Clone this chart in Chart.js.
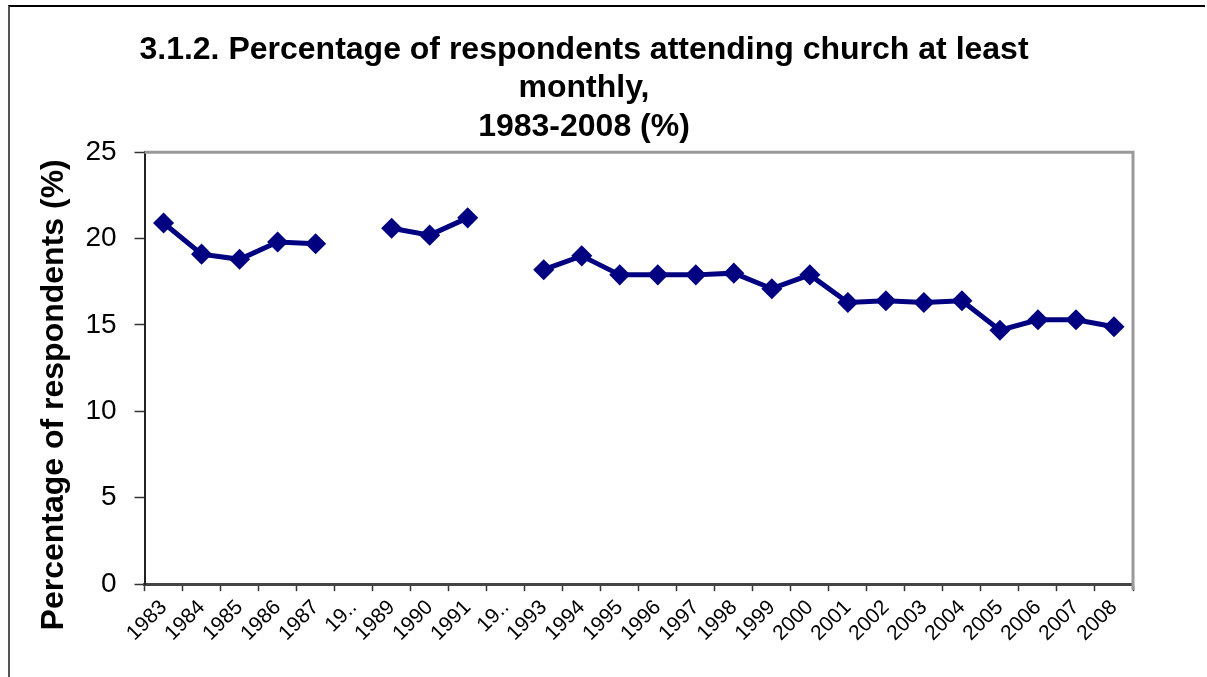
<!DOCTYPE html>
<html>
<head>
<meta charset="utf-8">
<script src="https://cdn.jsdelivr.net/npm/chart.js@4/dist/chart.umd.min.js"></script>
<style>
  html, body { margin: 0; padding: 0; background: #fff; }
  #wrap { position: absolute; left: 0; top: 0; width: 1207px; height: 677px; }
  #frame {
    position: absolute; left: 8px; top: 5px; width: 1195px; height: 680px;
    border-top: 2px solid #000; border-left: 2px solid #555;
    pointer-events: none;
  }
</style>
</head>
<body>
<div id="wrap"><canvas id="churchChart"></canvas></div>
<div id="frame"></div>
<script>
const years = [
  "1983", "1984", "1985", "1986", "1987", "1988", "1989", "1990", "1991", "1992",
  "1993", "1994", "1995", "1996", "1997", "1998", "1999", "2000", "2001", "2002",
  "2003", "2004", "2005", "2006", "2007", "2008",
];

// the two missing years are cut short on the original axis
const tickLabels = [
  "1983", "1984", "1985", "1986", "1987", "19..", "1989", "1990", "1991", "19..",
  "1993", "1994", "1995", "1996", "1997", "1998", "1999", "2000", "2001", "2002",
  "2003", "2004", "2005", "2006", "2007", "2008",
];

const attendance = [
  20.9, 19.1, 18.8, 19.8, 19.7, null, 20.6, 20.2, 21.2, null,
  18.2, 19.0, 17.9, 17.9, 17.9, 18.0, 17.1, 17.9, 16.3, 16.4,
  16.3, 16.4, 14.7, 15.3, 15.3, 14.9,
];

const yTicks = [0, 5, 10, 15, 20, 25];

const plotFrame = {
  id: "plotFrame",
  afterDraw(chart) {
    const { ctx, chartArea } = chart;
    ctx.save();
    ctx.strokeStyle = "#999999";
    ctx.lineWidth = 3;
    ctx.beginPath();
    ctx.moveTo(chartArea.left, chartArea.top);
    ctx.lineTo(chartArea.right, chartArea.top);
    ctx.lineTo(chartArea.right, chartArea.bottom + 6);
    ctx.stroke();
    ctx.restore();
  },
};

const ctx = document.getElementById("churchChart").getContext("2d");

new Chart(ctx, {
  type: "line",
  data: {
    labels: years,
    datasets: [
      {
        label: "Attending church at least monthly",
        data: attendance,
        borderColor: "#000080",
        backgroundColor: "#000080",
        borderWidth: 5,
        tension: 0,
        spanGaps: false,
        pointStyle: "rectRot",
        pointRadius: 7,
        pointHoverRadius: 7,
      },
    ],
  },
  options: {
    responsive: true,
    maintainAspectRatio: false,
    animation: false,
    layout: {
      padding: { left: 35, right: 74, top: 31, bottom: 27 },
    },
    scales: {
      x: {
        offset: true,
        grid: {
          display: true,
          drawOnChartArea: false,
          offset: true,
          tickLength: 7,
          color: "#333333",
          tickWidth: 1.5,
        },
        border: { display: true, color: "#444444", width: 3 },
        ticks: {
          color: "#000",
          font: { family: "Liberation Sans, Arial, sans-serif", size: 21 },
          maxRotation: 45,
          minRotation: 45,
          autoSkip: false,
          padding: 4,
          callback: (value, index) => tickLabels[index],
        },
      },
      y: {
        min: 0,
        max: 25,
        afterBuildTicks: (axis) => {
          axis.ticks = yTicks.map((v) => ({ value: v }));
        },
        grid: {
          display: true,
          drawOnChartArea: false,
          tickLength: 10,
          color: "#333333",
          tickWidth: 1.5,
        },
        border: { display: true, color: "#222222", width: 2 },
        ticks: {
          color: "#000",
          padding: 18,
          font: { family: "Liberation Sans, Arial, sans-serif", size: 28 },
        },
        title: {
          display: true,
          // trailing spaces push the centred title down a little, as in the original
          text: "Percentage of respondents (%)\u00a0\u00a0\u00a0\u00a0\u00a0\u00a0",
          color: "#000",
          font: { family: "Liberation Sans, Arial, sans-serif", size: 32, weight: "bold", lineHeight: 1.2 },
          padding: { top: 0, bottom: -6 },
        },
      },
    },
    plugins: {
      legend: { display: false },
      tooltip: { enabled: false },
      title: {
        display: true,
        text: [
          "3.1.2. Percentage of respondents attending church at least",
          "monthly,",
          "1983-2008 (%)",
        ],
        color: "#000",
        font: { family: "Liberation Sans, Arial, sans-serif", size: 32, weight: "bold", lineHeight: 1.2 },
        padding: { top: 0, bottom: 6 },
      },
    },
  },
  plugins: [plotFrame],
});
</script>
</body>
</html>
